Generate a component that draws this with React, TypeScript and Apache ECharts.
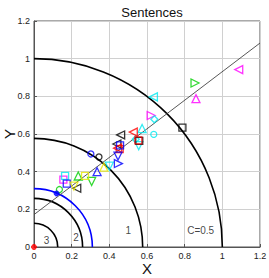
import React, { useEffect, useRef } from "react";
import * as echarts from "echarts";

// Axis ticks
const xTicks = [0, 0.2, 0.4, 0.6, 0.8, 1, 1.2];
const yTicks = [0, 0.2, 0.4, 0.6, 0.8, 1, 1.2];

// Axis titles
const xName = "X";
const yName = "Y";
const chartTitle = "Sentences";

// Quarter-circle radii (capacity contours)
const blackArcRadii = [1.0, 0.577, 0.258, 0.126];
const blueArcRadii = [0.31];

// Contour labels [x, y, text]
const arcLabels: [number, number, string][] = [
  [0.067, 0.032, "3"],
  [0.223, 0.05, "2"],
  [0.501, 0.085, "1"],
  [0.885, 0.088, "C=0.5"],
];

// Fitted line endpoints
const fitLine = [
  [0, 0.172],
  [1.2, 1.083],
];

// Markers
const magentaLeft = [[1.087, 0.942]];
const magentaUp = [[0.86, 0.788]];
const magentaRight = [[0.622, 0.698]];
const magentaSquare = [[0.156, 0.358]];

const greenRight = [[0.855, 0.871]];
const greenUp = [[0.235, 0.377]];
const greenDown = [[0.306, 0.348]];
const greenCircle = [[0.135, 0.305]];

const cyanLeft = [[0.634, 0.797]];
const cyanDiamond = [[0.639, 0.678], [0.54, 0.572]];
const cyanCircle = [[0.636, 0.598]];
const cyanUp = [[0.574, 0.629]];
const cyanDown = [[0.556, 0.538], [0.4, 0.429]];
const cyanSquare = [[0.165, 0.378]];

const blackSquare = [[0.788, 0.634], [0.559, 0.563]];
const blackLeft = [[0.46, 0.595], [0.44, 0.547], [0.227, 0.312]];
const blackCircle = [[0.345, 0.478]];

const redLeft = [[0.527, 0.61], [0.444, 0.525]];
const redSquare = [[0.554, 0.566], [0.455, 0.52]];
const redDot = [[0, 0]];

const blueCircle = [[0.302, 0.494]];
const blueDot = [[0.12, 0.284]];
const blueSquare = [[0.457, 0.54], [0.174, 0.337]];
const blueDown = [[0.446, 0.483]];
const blueRight = [[0.448, 0.443]];
const blueUp = [[0.335, 0.4]];

const yellowDown = [[0.212, 0.323]];
const yellowSquare = [[0.271, 0.378]];
const yellowUp = [[0.371, 0.424]];

const MAG = "#ff00ff";
const GRN = "#00d000";
const CYN = "#00e8f0";
const BLK = "#000000";
const RED = "#ff0000";
const BLU = "#0000ff";
const YEL = "#e8e800";

function marker(data: number[][], shape: string, color: string, filled = false) {
  let symbol = "triangle";
  let rotate = 0;
  let size = 8;
  if (shape === "up") rotate = 0;
  else if (shape === "down") rotate = 180;
  else if (shape === "left") rotate = 90;
  else if (shape === "right") rotate = -90;
  else if (shape === "square") { symbol = "rect"; size = 7; }
  else if (shape === "diamond") { symbol = "diamond"; size = 7; }
  else if (shape === "circle") { symbol = "circle"; size = filled ? 5 : 6; }
  return {
    type: "scatter",
    data,
    symbol,
    symbolRotate: rotate,
    symbolSize: size,
    clip: false,
    silent: true,
    itemStyle: filled
      ? { color, borderColor: color, borderWidth: 1 }
      : { color: "transparent", borderColor: color, borderWidth: 1.3 },
    z: 5,
  };
}

export default function App() {
  const ref = useRef<HTMLDivElement>(null);
  useEffect(() => {
    if (!ref.current) return;
    const chart = echarts.init(ref.current, null, { renderer: "svg" });
    const font = "Liberation Sans, Arial, sans-serif";
    const arcSeries = (radii: number[], color: string, width: number) => ({
      type: "custom",
      coordinateSystem: "cartesian2d",
      silent: true,
      clip: false,
      data: radii.map((r) => [r, 0]),
      renderItem: (params: any, api: any) => {
        const c = api.coord([0, 0]);
        const rr = api.size([api.value(0), 0])[0];
        return {
          type: "arc",
          shape: { cx: c[0], cy: c[1], r: rr, startAngle: -Math.PI / 2, endAngle: 0, clockwise: true },
          style: { stroke: color, lineWidth: width, fill: null },
        };
      },
      z: 3,
    });
    const axisCommon = {
      type: "value",
      interval: 0.2,
      axisLine: { show: true, lineStyle: { color: "#555" } },
      axisTick: { show: true, inside: true, length: 3, lineStyle: { color: "#555" } },
      axisLabel: {
        fontFamily: font,
        fontSize: 9,
        color: "#222",
        margin: 4,
        formatter: (v: number) => String(+v.toFixed(1)),
      },
      splitLine: { show: true, lineStyle: { color: "#d0d0d0", width: 1 } },
    };
    chart.setOption({
      animation: false,
      backgroundColor: "#ffffff",
      title: {
        text: chartTitle,
        left: 147,
        top: 1,
        textAlign: "center",
        textStyle: { fontFamily: font, fontSize: 13, fontWeight: "normal", color: "#111" },
      },
      graphic: [
        {
          type: "text",
          x: 147,
          y: 268,
          style: {
            text: xName,
            fontFamily: font,
            fontSize: 15,
            fill: "#111",
            align: "center",
            verticalAlign: "middle",
          },
        },
        {
          type: "text",
          x: 9,
          y: 134,
          rotation: Math.PI / 2,
          style: {
            text: yName,
            fontFamily: font,
            fontSize: 15,
            fill: "#111",
            align: "center",
            verticalAlign: "middle",
          },
        },
      ],
      grid: {
        left: 34,
        top: 21,
        width: 226,
        height: 226,
        show: true,
        borderColor: "#555",
        borderWidth: 1,
        containLabel: false,
        outerBoundsMode: "none",
      },
      xAxis: { ...axisCommon, min: xTicks[0], max: xTicks[xTicks.length - 1] },
      yAxis: { ...axisCommon, min: yTicks[0], max: yTicks[yTicks.length - 1] },
      series: [
        arcSeries(blackArcRadii, "#000", 1.6),
        arcSeries(blueArcRadii, "#0000ff", 1.6),
        {
          type: "line",
          data: fitLine,
          symbol: "none",
          silent: true,
          lineStyle: { color: "#444", width: 0.9 },
          z: 4,
        },
        {
          type: "scatter",
          data: arcLabels,
          symbolSize: 0,
          silent: true,
          label: {
            show: true,
            position: "inside",
            formatter: (p: any) => p.data[2],
            fontFamily: font,
            fontSize: 10,
            color: "#111",
          },
          z: 6,
        },
        marker(magentaLeft, "left", MAG),
        marker(magentaUp, "up", MAG),
        marker(magentaRight, "right", MAG),
        marker(magentaSquare, "square", MAG),
        marker(greenRight, "right", GRN),
        marker(greenUp, "up", GRN),
        marker(greenDown, "down", GRN),
        marker(greenCircle, "circle", GRN),
        marker(cyanLeft, "left", CYN),
        marker(cyanDiamond, "diamond", CYN),
        marker(cyanCircle, "circle", CYN),
        marker(cyanUp, "up", CYN),
        marker(cyanDown, "down", CYN),
        marker(cyanSquare, "square", CYN),
        marker(blackSquare, "square", BLK),
        marker(blackLeft, "left", BLK),
        marker(blackCircle, "circle", BLK),
        marker(redLeft, "left", RED),
        marker(redSquare, "square", RED),
        marker(redDot, "circle", RED, true),
        marker(blueCircle, "circle", BLU),
        marker(blueDot, "circle", BLU, true),
        marker(blueSquare, "square", BLU),
        marker(blueDown, "down", BLU),
        marker(blueRight, "right", BLU),
        marker(blueUp, "up", BLU),
        marker(yellowDown, "down", YEL),
        marker(yellowSquare, "square", YEL),
        marker(yellowUp, "up", YEL),
      ],
    });
    return () => chart.dispose();
  }, []);
  return (
    <div
      ref={ref}
      style={{ position: "fixed", left: 0, top: 0, width: 269, height: 278, background: "#fff" }}
    />
  );
}
